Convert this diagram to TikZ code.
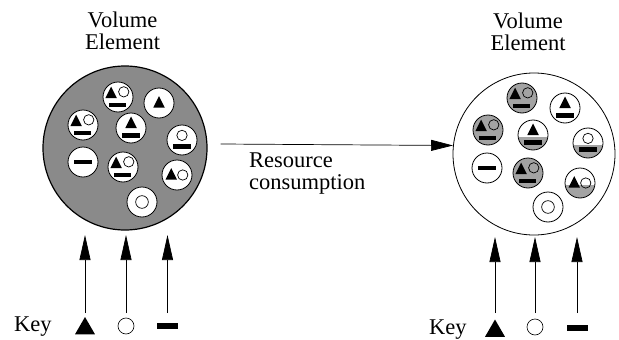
\documentclass[tikz,border=0pt]{standalone}
\usepackage{fontspec}
\setmainfont{Liberation Serif}
\usepackage{tikz}
\usetikzlibrary{shapes.geometric, arrows.meta}
\definecolor{darkfill}{gray}{0.54}
\definecolor{lightfill}{gray}{0.64}
\tikzstyle{volume} = [circle, draw=black, minimum size=164pt, inner sep=0pt]
\tikzstyle{cell} = [circle, draw=black, fill=white, minimum size=30pt, inner sep=0pt, line width=0.8pt]
\tikzstyle{graycell} = [cell, fill=lightfill]
\tikzstyle{halfcell} = [cell, path picture={\fill[lightfill] ([yshift=-1.5pt]path picture bounding box.west) rectangle (path picture bounding box.south east);}]
\tikzstyle{heading} = [font=\fontsize{22.5}{22}\selectfont, align=center, inner sep=0pt]
\tikzstyle{keytri} = [regular polygon, regular polygon sides=3, fill=black, minimum size=23pt, inner sep=0pt]
\tikzstyle{keyring} = [circle, draw=black, minimum size=16pt, inner sep=0pt, line width=0.6pt]
\tikzstyle{keybar} = [rectangle, fill=black, minimum width=21pt, minimum height=6pt, inner sep=0pt]
\tikzstyle{arrow} = [line width=0.7pt, -{Triangle[length=22pt,width=11pt]}]
\tikzstyle{keyarrow} = [line width=0.7pt, -{Triangle[length=25pt,width=11pt]}]
\tikzset{
  every pic/.style={scale=1.15},
  allthree/.pic={\fill (-11,1) -- (-1,1) -- (-6,-9) -- cycle;
    \draw[line width=0.7pt] (5,-4.5) circle (4.5pt);
    \fill (-8,5) rectangle (7,9);},
  trionly/.pic={\fill (-5,4) -- (5,4) -- (0,-6) -- cycle;},
  tribar/.pic={\fill (-5,0) -- (5,0) -- (0,-10) -- cycle;
    \fill (-7.5,4.5) rectangle (7.5,8.5);},
  ringbar/.pic={\draw[line width=0.7pt] (0,-4) circle (4.5pt);
    \fill (-7.5,3.5) rectangle (7.5,7.5);},
  baronly/.pic={\fill (-7.5,-2) rectangle (7.5,2);},
  triring/.pic={\fill (-10,4) -- (0,4) -- (-5,-6) -- cycle;
    \draw[line width=0.7pt] (5,0) circle (4.5pt);},
  ringonly/.pic={\draw[line width=0.7pt] (0,0) circle (5.5pt);}
}

\begin{document}
\begin{tikzpicture}[x=1pt, y=-1pt]
    \useasboundingbox (0,0) rectangle (619,340);
    % volume element before
    \node (head1) [heading] at (122.5,30.5) {Volume\\Element};
    \node (vol1) [volume, fill=darkfill, line width=1.2pt] at (125,148) {};
    \node (L1) [cell] at (118,97) {};
    \node (L2) [cell] at (159,103) {};
    \node (L3) [cell] at (83,125) {};
    \node (L4) [cell] at (131,128) {};
    \node (L5) [cell] at (182,140) {};
    \node (L6) [cell] at (83,162) {};
    \node (L7) [cell] at (123,167) {};
    \node (L8) [cell] at (177,175) {};
    \node (L9) [cell] at (142,202) {};
    \pic at (L1) {allthree};
    \pic at (L2) {trionly};
    \pic at (L3) {allthree};
    \pic at (L4) {tribar};
    \pic at (L5) {ringbar};
    \pic at (L6) {baronly};
    \pic at (L7) {allthree};
    \pic at (L8) {triring};
    \pic at (L9) {ringonly};
    % volume element after
    \node (head2) [heading] at (528,31.5) {Volume\\Element};
    \node (vol2) [volume, minimum size=162pt, fill=white, line width=0.8pt] at (534,154) {};
    \node (R1) [graycell] at (522,98) {};
    \node (R2) [cell] at (565,108) {};
    \node (R3) [graycell] at (488,130) {};
    \node (R4) [halfcell] at (533,135) {};
    \node (R5) [halfcell] at (588,143) {};
    \node (R6) [cell] at (487,168) {};
    \node (R7) [graycell] at (528,173) {};
    \node (R8) [halfcell] at (580,183) {};
    \node (R9) [cell] at (548,207) {};
    \pic at (R1) {allthree};
    \pic at (R2) {tribar};
    \pic at (R3) {allthree};
    \pic at (R4) {tribar};
    \pic at (R5) {ringbar};
    \pic at (R6) {baronly};
    \pic at (R7) {allthree};
    \pic at (R8) {triring};
    \pic at (R9) {ringonly};
    % consumption arrow
    \node (res) [heading, align=left, anchor=west] at (249,174) {Resource\\consumption};
    \draw [arrow] ([xshift=13pt,yshift=4pt]vol1.east) -- (vol2.174);
    % keys
    \node (key1) [heading, anchor=west] at (14,327) {Key};
    \node (ktri1) [keytri] at (85,328.5) {};
    \node (kring1) [keyring] at (126,326) {};
    \node (kbar1) [keybar] at (167.5,326) {};
    \node (key2) [heading, anchor=west] at (429,329.5) {Key};
    \node (ktri2) [keytri] at (495,331) {};
    \node (kring2) [keyring] at (535,327) {};
    \node (kbar2) [keybar] at (577,327.5) {};
    \draw [keyarrow] (ktri1.north |- 0,313) -- (ktri1.north |- 0,235);
    \draw [keyarrow] (kring1.north |- 0,313) -- (kring1.north |- 0,235);
    \draw [keyarrow] (kbar1.north |- 0,313) -- (kbar1.north |- 0,235);
    \draw [keyarrow] (ktri2.north |- 0,313) -- (ktri2.north |- 0,237);
    \draw [keyarrow] (kring2.north |- 0,313) -- (kring2.north |- 0,237);
    \draw [keyarrow] (kbar2.north |- 0,313) -- (kbar2.north |- 0,237);
\end{tikzpicture}
\end{document}
